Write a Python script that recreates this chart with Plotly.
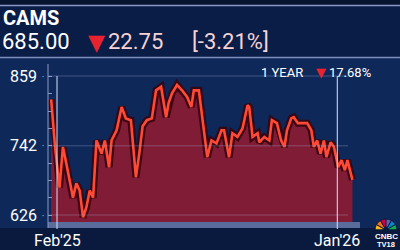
import plotly.graph_objects as go

# ---- data ----
dates = ["2025-01-25","2025-01-30","2025-02-04","2025-02-08","2025-02-12","2025-02-16","2025-02-20",
         "2025-02-24","2025-02-28","2025-03-04","2025-03-08","2025-03-12","2025-03-16","2025-03-20",
         "2025-03-26","2025-03-30","2025-04-04","2025-04-07","2025-04-13","2025-04-19","2025-04-24",
         "2025-04-30","2025-05-06","2025-05-10","2025-05-14","2025-05-19","2025-05-25","2025-05-30",
         "2025-06-05","2025-06-11","2025-06-14","2025-06-18","2025-06-24","2025-06-30","2025-07-06",
         "2025-07-11","2025-07-14","2025-07-20","2025-07-26","2025-07-30","2025-08-04","2025-08-10",
         "2025-08-16","2025-08-19","2025-08-25","2025-08-29","2025-09-04","2025-09-10","2025-09-16",
         "2025-09-18","2025-09-22","2025-09-28","2025-09-30","2025-10-06","2025-10-12","2025-10-15",
         "2025-10-21","2025-10-26","2025-10-30","2025-11-02","2025-11-07","2025-11-10","2025-11-15",
         "2025-11-20","2025-11-26","2025-12-01","2025-12-04","2025-12-08","2025-12-12","2025-12-16",
         "2025-12-19","2025-12-24","2025-12-28","2026-01-02","2026-01-06","2026-01-10","2026-01-13",
         "2026-01-19"]
prices = [820,735,672,740,713,684,655,679,667,622,639,667,655,751,729,751,706,751,768,807,788,
          785,689,729,775,785,788,835,841,790,814,830,844,835,824,807,835,835,773,723,751,746,
          768,768,723,763,757,771,810,807,757,763,748,757,751,785,780,751,740,768,788,790,780,
          780,780,768,740,751,729,751,723,748,740,706,718,701,718,685]

y_tick_vals = [626, 742, 859]
y_tick_text = ["626", "742", "859"]
x_tick_vals = ["2025-02-01", "2026-01-01"]
x_tick_text = ["Feb'25", "Jan'26"]

ticker = "CAMS"
last_price = "685.00"
change = "22.75"
change_pct = "[-3.21%]"
period_label = "1 YEAR"
period_change = "17.68%"

W, H = 400, 250
def py(px):
    return 1 - px / H
def px_(x):
    return x / W

fig = go.Figure()

# shadow for depth effect
fig.add_trace(go.Scatter(x=dates, y=prices, mode="lines",
                         line=dict(color="rgba(55,4,14,0.9)", width=7),
                         fill="tozeroy", fillcolor="rgba(138,28,52,0.93)",
                         hoverinfo="skip", showlegend=False))
fig.add_trace(go.Scatter(x=dates, y=prices, mode="lines",
                         line=dict(color="#ff4a36", width=2.6),
                         hoverinfo="skip", showlegend=False))

shapes = []
# background bands
shapes.append(dict(type="rect", xref="paper", yref="paper", x0=0, x1=1, y0=0, y1=1,
                   fillcolor="#0e2859", line_width=0, layer="below"))
shapes.append(dict(type="rect", xref="paper", yref="paper", x0=0, x1=1, y0=py(58), y1=1,
                   fillcolor="#0a1d47", line_width=0, layer="below"))
shapes.append(dict(type="rect", xref="paper", yref="paper", x0=0, x1=1, y0=py(5), y1=1,
                   fillcolor="#07142f", line_width=0, layer="below"))
shapes.append(dict(type="rect", xref="paper", yref="paper", x0=0, x1=1, y0=0, y1=py(228),
                   fillcolor="#0a1a3e", line_width=0, layer="below"))
# separator lines
shapes.append(dict(type="line", xref="paper", yref="paper", x0=0, x1=1, y0=py(5.5), y1=py(5.5),
                   line=dict(color="#8797c2", width=1.5)))
shapes.append(dict(type="line", xref="paper", yref="paper", x0=0, x1=1, y0=py(57.5), y1=py(57.5),
                   line=dict(color="#7d8fbd", width=1.5)))
# bottom axis strip
shapes.append(dict(type="rect", xref="paper", yref="paper", x0=px_(48), x1=px_(360),
                   y0=py(228), y1=py(222), fillcolor="#5a6c9c", line_width=0, layer="below"))
# grid lines
for v in y_tick_vals:
    shapes.append(dict(type="line", xref="paper", yref="y", x0=px_(48), x1=px_(348), y0=v, y1=v,
                       line=dict(color="rgba(160,175,210,0.35)", width=1)))
# left axis line
shapes.append(dict(type="line", xref="paper", yref="paper", x0=px_(48), x1=px_(48),
                   y0=py(228), y1=py(64), line=dict(color="#8a9ac4", width=1)))
# vertical markers
for xv in x_tick_vals:
    shapes.append(dict(type="line", xref="x", yref="paper", x0=xv, x1=xv,
                       y0=py(229), y1=py(76), line=dict(color="rgba(215,225,245,0.85)", width=1.2)))

annotations = []
def txt(x, y, s, size, color="white", bold=False, xanchor="left", family="Roboto"):
    annotations.append(dict(x=x, y=y, xref="paper", yref="paper", text=(f"<b>{s}</b>" if bold else s),
                            showarrow=False, xanchor=xanchor, yanchor="middle",
                            font=dict(size=size, color=color, family=family)))

txt(px_(1), py(18), ticker, 20, bold=True)
txt(px_(0), py(41), last_price, 22)
txt(px_(86), py(42), "▼", 22, color="#e8232f", family="DejaVu Sans")
txt(px_(106), py(41), change, 22, color="#f6d3d3")
txt(px_(190), py(41), change_pct, 22, color="#f6d3d3")
txt(px_(259), py(72), period_label, 13)
txt(px_(314), py(72), "▼", 13, color="#e8232f", family="DejaVu Sans")
txt(px_(327), py(72), period_change, 13)

for v, t in zip(y_tick_vals, y_tick_text):
    annotations.append(dict(x=px_(39), y=v, xref="paper", yref="y", text=t, showarrow=False,
                            xanchor="right", yanchor="middle",
                            font=dict(size=16, color="white", family="Roboto")))
    annotations.append(dict(x=px_(43), y=v, xref="paper", yref="y", text="•", showarrow=False,
                            xanchor="center", yanchor="middle",
                            font=dict(size=6, color="#9fb0d6", family="Roboto")))
for xv, t in zip(x_tick_vals, x_tick_text):
    annotations.append(dict(x=xv, y=py(240), xref="x", yref="paper", text=t, showarrow=False,
                            xanchor="center", yanchor="middle",
                            font=dict(size=16, color="white", family="Roboto")))

# logo
txt(px_(386), py(236), "CNBC", 8, bold=True, xanchor="center", family="Arial")
txt(px_(386), py(244.5), "TV18", 7.5, bold=True, xanchor="center", family="Arial")
fig.add_trace(go.Pie(values=[1]*12, sort=False, direction="clockwise", rotation=270,
                     marker=dict(colors=["#fcb711","#f37021","#cc004c","#6460aa","#0089d0","#0db14b",
                                         "rgba(0,0,0,0)","rgba(0,0,0,0)","rgba(0,0,0,0)",
                                         "rgba(0,0,0,0)","rgba(0,0,0,0)","rgba(0,0,0,0)"],
                                 line=dict(color="#0a1a3e", width=1)),
                     hole=0.25, textinfo="none", hoverinfo="skip", showlegend=False,
                     domain=dict(x=[px_(375), px_(397)], y=[py(241), py(219)])))

fig.update_layout(
    width=W, height=H, margin=dict(l=0, r=0, t=0, b=0),
    paper_bgcolor="#0e2859", plot_bgcolor="rgba(0,0,0,0)",
    shapes=shapes, annotations=annotations,
    xaxis=dict(domain=[px_(48), px_(360)], range=["2025-01-21 06:00", "2026-01-28"],
               showgrid=False, zeroline=False, showticklabels=False, ticks=""),
    yaxis=dict(domain=[py(222), py(62)], range=[614.3, 882.5],
               showgrid=False, zeroline=False, showticklabels=False,
               ticks="inside", tickvals=[626, 655, 684, 713, 742, 771, 800, 830, 859],
               ticklen=4, tickcolor="#8a9ac4"),
)

fig.write_html("out.html")
